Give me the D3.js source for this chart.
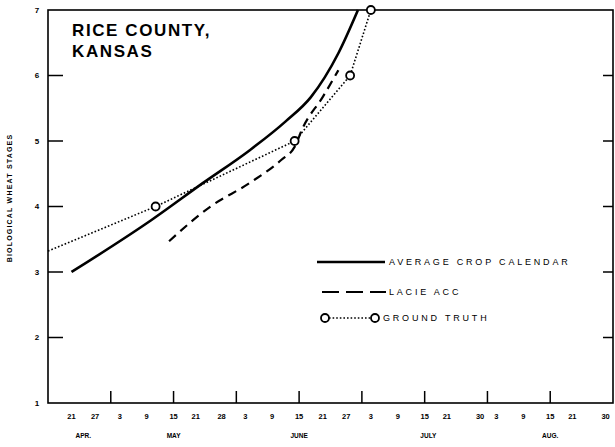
<!DOCTYPE html>
<html>
<head>
<meta charset="utf-8">
<script src="https://cdn.jsdelivr.net/npm/d3@7"></script>
<style>
  body { margin: 0; background: #fff; }
  svg { display: block; font-family: 'Liberation Sans', Arial, sans-serif; }
</style>
</head>
<body>
<svg id="chart" width="615" height="447"></svg>
<script>
// semi-monthly periods, each drawn with the same width
const periodStarts = ['04-15', '05-01', '05-15', '06-01', '06-15', '07-01', '07-15', '08-01', '08-15', '09-01'];
const stageTicks = [1, 2, 3, 4, 5, 6, 7];
const dayLabels = ['04-21', '04-27', '05-03', '05-09', '05-15', '05-21', '05-28', '06-03', '06-09', '06-15', '06-21',
    '06-27', '07-03', '07-09', '07-15', '07-21', '07-30', '08-03', '08-09', '08-15', '08-21', '08-30'];
const monthNames = ['APR.', 'MAY', 'JUNE', 'JULY', 'AUG.'];
const monthDates = ['04-24', '05-15', '06-15', '07-16', '08-15'];

const avgDates = ['04-21', '05-10', '05-23', '06-04', '06-12', '06-18', '06-25', '06-30'];
const avgStages = [3.0, 3.79, 4.36, 4.86, 5.3, 5.67, 6.34, 7.0];

const lacieDates = ['05-14', '05-25', '06-04', '06-11', '06-14', '06-16', '06-21', '06-25'];
const lacieStages = [3.47, 4.0, 4.36, 4.71, 4.91, 5.21, 5.67, 6.08];

const truthDates = ['04-15', '05-11', '06-14', '06-28', '07-03'];
const truthStages = [3.32, 4.0, 5.0, 6.0, 7.0];
const truthMarked = [false, true, true, true, true];

const parse = s => d3.timeParse('%Y-%m-%d')('1977-' + s);

const plotLeft = 48, plotRight = 613, plotTop = 10, plotBottom = 403;

const x = d3.scaleTime()
    .domain(periodStarts.map(parse))
    .range(periodStarts.map((d, i) => plotLeft + i * (plotRight - plotLeft) / (periodStarts.length - 1)));

const y = d3.scaleLinear()
    .domain([1, 7])
    .range([plotBottom, plotTop]);

const svg = d3.select('#chart');

// frame
svg.append('rect')
    .attr('x', plotLeft).attr('y', plotTop)
    .attr('width', plotRight - plotLeft).attr('height', plotBottom - plotTop)
    .attr('fill', 'none').attr('stroke', '#000').attr('stroke-width', 1.6);

// stage ticks, left and right
const inner = stageTicks.slice(1, -1);
svg.selectAll('.ytl').data(inner).enter()
    .append('line')
        .attr('x1', plotLeft).attr('x2', plotLeft + 15)
        .attr('y1', d => y(d)).attr('y2', d => y(d))
        .attr('stroke', '#000').attr('stroke-width', 1.5);
svg.selectAll('.ytr').data(inner).enter()
    .append('line')
        .attr('x1', plotRight - 10).attr('x2', plotRight)
        .attr('y1', d => y(d)).attr('y2', d => y(d))
        .attr('stroke', '#000').attr('stroke-width', 1.5);
svg.selectAll('.ylab').data(stageTicks).enter()
    .append('text')
        .attr('x', 37).attr('y', d => y(d))
        .attr('dy', '0.35em')
        .attr('text-anchor', 'middle')
        .attr('font-size', 8).attr('font-weight', 'bold')
        .text(d => d);

// period ticks on the bottom axis
svg.selectAll('.xt').data(periodStarts.slice(1, -1)).enter()
    .append('line')
        .attr('x1', d => x(parse(d))).attr('x2', d => x(parse(d)))
        .attr('y1', plotBottom).attr('y2', plotBottom - 12)
        .attr('stroke', '#000').attr('stroke-width', 1.5);

svg.selectAll('.xlab').data(dayLabels).enter()
    .append('text')
        .attr('x', d => x(parse(d))).attr('y', 419)
        .attr('text-anchor', 'middle')
        .attr('font-size', 7.5).attr('font-weight', 'bold')
        .text(d => d3.timeFormat('%-d')(parse(d)));

svg.selectAll('.mlab').data(monthNames).enter()
    .append('text')
        .attr('x', (d, i) => x(parse(monthDates[i]))).attr('y', 438)
        .attr('text-anchor', 'middle')
        .attr('font-size', 6.5).attr('font-weight', 'bold')
        .text(d => d);

svg.append('text')
    .attr('transform', 'translate(12,198) rotate(-90)')
    .attr('text-anchor', 'middle')
    .attr('font-size', 7).attr('font-weight', 'bold')
    .attr('letter-spacing', 1.2)
    .text('BIOLOGICAL WHEAT STAGES');

// title
const title = svg.append('text')
    .attr('font-size', 17).attr('font-weight', 'bold')
    .attr('letter-spacing', 1.6);
title.append('tspan').attr('x', 72).attr('y', 36).text('RICE COUNTY,');
title.append('tspan').attr('x', 72).attr('y', 57).text('KANSAS');

// series
const line = d3.line()
    .x(d => x(parse(d[0])))
    .y(d => y(d[1]));

svg.append('path')
    .datum(d3.zip(avgDates, avgStages))
    .attr('d', line.curve(d3.curveMonotoneX))
    .attr('fill', 'none').attr('stroke', '#000').attr('stroke-width', 2.6);

svg.append('path')
    .datum(d3.zip(lacieDates, lacieStages))
    .attr('d', line.curve(d3.curveMonotoneX))
    .attr('fill', 'none').attr('stroke', '#000').attr('stroke-width', 2.2)
    .attr('stroke-dasharray', '9,6');

svg.append('path')
    .datum(d3.zip(truthDates, truthStages))
    .attr('d', line.curve(d3.curveLinear))
    .attr('fill', 'none').attr('stroke', '#000').attr('stroke-width', 1.6)
    .attr('stroke-dasharray', '1.6,2');

svg.selectAll('.gt').data(d3.zip(truthDates, truthStages).filter((d, i) => truthMarked[i])).enter()
    .append('circle')
        .attr('cx', d => x(parse(d[0])))
        .attr('cy', d => y(d[1]))
        .attr('r', 4)
        .attr('fill', '#fff').attr('stroke', '#000').attr('stroke-width', 1.8);

// legend
const legend = svg.append('g');
legend.append('line')
    .attr('x1', 317).attr('x2', 385).attr('y1', 262).attr('y2', 262)
    .attr('stroke', '#000').attr('stroke-width', 2.6);
legend.append('line')
    .attr('x1', 322).attr('x2', 386).attr('y1', 292).attr('y2', 292)
    .attr('stroke', '#000').attr('stroke-width', 2.2)
    .attr('stroke-dasharray', '17,7');
legend.append('line')
    .attr('x1', 329).attr('x2', 371).attr('y1', 318).attr('y2', 318)
    .attr('stroke', '#000').attr('stroke-width', 1.6)
    .attr('stroke-dasharray', '1.6,2');
legend.selectAll('circle').data([325, 375]).enter()
    .append('circle')
        .attr('cx', d => d).attr('cy', 318).attr('r', 4)
        .attr('fill', '#fff').attr('stroke', '#000').attr('stroke-width', 1.8);

const legendText = [['AVERAGE CROP CALENDAR', 389, 262], ['LACIE ACC', 389, 292], ['GROUND TRUTH', 383, 318]];
legend.selectAll('text').data(legendText).enter()
    .append('text')
        .attr('x', d => d[1]).attr('y', d => d[2])
        .attr('dy', '0.35em')
        .attr('font-size', 9)
        .attr('letter-spacing', 2.8)
        .text(d => d[0]);
</script>
</body>
</html>
